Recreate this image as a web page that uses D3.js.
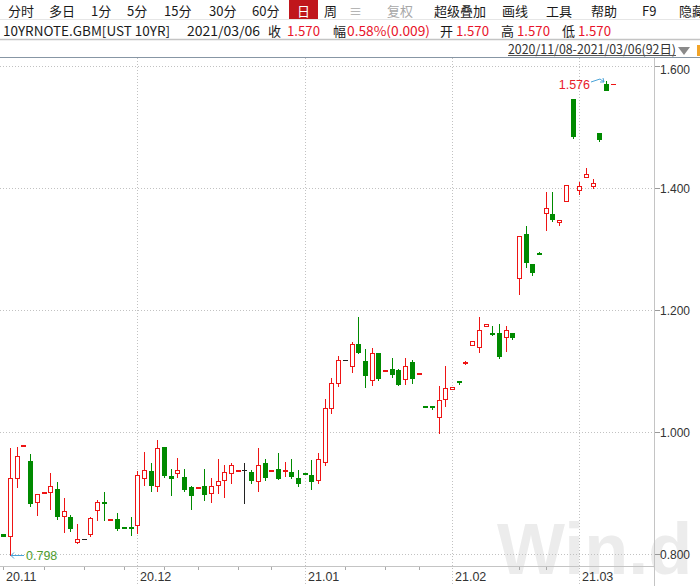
<!DOCTYPE html>
<html><head><meta charset="utf-8">
<script src="https://cdn.jsdelivr.net/npm/d3@7"></script>
<style>
html,body{margin:0;padding:0;background:#fff;overflow:hidden;}
svg{display:block;}
</style></head><body>
<svg id="c" width="700" height="586"></svg>
<script>
// ---------------- data ----------------
const openV  = [0.833,0.829,0.925,0.977,0.952,0.885,0.900,0.902,0.906,0.862,0.860,0.820,0.825,0.833,0.872,0.886,0.857,0.857,0.845,0.844,
                0.848,0.925,0.936,0.911,0.976,0.928,0.933,0.926,0.910,0.909,0.911,0.900,0.913,0.921,0.932,0.937,0.938,0.934,0.920,0.950,
                0.937,0.939,0.937,0.935,0.925,0.933,0.929,0.922,0.951,1.039,1.081,1.118,1.109,1.145,1.117,1.086,1.129,1.100,1.103,1.101,
                1.087,1.114,1.096,1.042,1.042,1.025,1.054,1.070,1.084,1.114,1.143,1.139,1.173,1.163,1.163,1.156,1.163,1.252,1.324,1.275,
                1.294,1.359,1.357,1.344,1.378,1.546,1.396,1.418,1.403,1.490,1.570,1.570];
const highV  = [0.833,0.974,0.976,0.978,0.964,0.899,0.901,0.932,0.918,0.892,0.864,0.849,0.825,0.860,0.888,0.902,0.858,0.867,0.845,0.860,
                0.936,0.967,0.950,0.987,0.976,0.940,0.958,0.940,0.911,0.910,0.939,0.925,0.955,0.946,0.950,0.938,0.949,0.938,0.973,0.956,
                0.938,0.965,0.951,0.955,0.938,0.933,0.954,0.965,1.054,1.088,1.125,1.118,1.148,1.189,1.136,1.137,1.130,1.101,1.122,1.103,
                1.122,1.118,1.097,1.042,1.042,1.075,1.109,1.073,1.084,1.117,1.150,1.188,1.177,1.173,1.177,1.173,1.163,1.322,1.338,1.275,
                1.295,1.393,1.393,1.348,1.405,1.546,1.410,1.432,1.414,1.490,1.576,1.570];
const lowV   = [0.830,0.798,0.910,0.977,0.878,0.864,0.900,0.873,0.858,0.836,0.838,0.818,0.825,0.830,0.855,0.855,0.857,0.839,0.844,0.831,
                0.835,0.913,0.903,0.903,0.926,0.896,0.926,0.904,0.874,0.909,0.888,0.885,0.900,0.893,0.916,0.937,0.883,0.916,0.904,0.921,
                0.937,0.923,0.928,0.925,0.912,0.932,0.906,0.916,0.946,1.031,1.076,1.118,1.099,1.130,1.073,1.077,1.085,1.100,1.090,1.077,
                1.078,1.081,1.096,1.041,1.038,0.999,1.043,1.070,1.078,1.111,1.142,1.131,1.173,1.159,1.122,1.132,1.152,1.226,1.271,1.258,
                1.293,1.331,1.346,1.340,1.378,1.482,1.390,1.418,1.400,1.477,1.561,1.570];
const closeV = [0.830,0.925,0.960,0.978,0.884,0.898,0.901,0.912,0.862,0.870,0.843,0.825,0.825,0.859,0.885,0.883,0.858,0.843,0.844,0.843,
                0.929,0.938,0.913,0.973,0.929,0.924,0.937,0.906,0.896,0.910,0.898,0.911,0.920,0.935,0.946,0.938,0.938,0.921,0.946,0.926,
                0.938,0.925,0.938,0.928,0.916,0.932,0.919,0.955,1.039,1.081,1.118,1.118,1.144,1.131,1.093,1.130,1.088,1.101,1.095,1.078,
                1.109,1.088,1.097,1.041,1.041,1.052,1.072,1.073,1.083,1.115,1.149,1.168,1.177,1.162,1.125,1.168,1.156,1.322,1.278,1.263,
                1.293,1.368,1.349,1.348,1.405,1.486,1.403,1.423,1.409,1.480,1.561,1.570];
const monthLabels = ["20.11","20.12","21.01","21.02","21.03"];
const monthStart  = [0,20,45,67,86];
const weekTicks   = [0,6,12,18,24,29,35,40,51,57,62,77,81];
const yTicks      = [0.8,1.0,1.2,1.4,1.6];
const highNote = {idx:90, value:1.576};
const lowNote  = {idx:1,  value:0.798};
const toolbarItems = ["分时","多日","1分","5分","15分","30分","60分","日","周","≡","复权","超级叠加","画线","工具","帮助","F9","隐藏"];
const securityName = "10YRNOTE.GBM[UST 10YR]";
const quoteDate = "2021/03/06";
const quoteLabels = ["收","幅","开","高","低"];
const quoteValues = ["1.570","0.58%(0.009)","1.570","1.570","1.570"];
const rangeText = "2020/11/08-2021/03/06(92日)";

// ---------------- drawing ----------------
const RED = "#ee1414", GREEN = "#008a00", FLAT = "#222";
const svg = d3.select("#c");
const CJK = "'Noto Sans CJK SC','Noto Sans',sans-serif";
const NUM = "'Liberation Sans',Arial,sans-serif";

// watermark
svg.append("text").attr("x",497).attr("y",574).attr("font-family",NUM).attr("font-weight","bold")
  .attr("font-size",72).attr("fill","#ececec").text("Win.d");

// header row 1
const tbX = [8,49,91,127,164,209,252,297,324,349,387,434,502,546,591,642,679];
svg.append("rect").attr("x",289).attr("y",0).attr("width",29).attr("height",19).attr("fill","#c0161c");
toolbarItems.forEach((t,i)=>{
  let fill = "#1a1a1a";
  if (t==="日") fill="#fff";
  if (t==="复权"||t==="≡") fill="#a8a8a8";
  svg.append("text").attr("x",tbX[i]).attr("y",15.5).attr("font-family",CJK).attr("font-size",13)
    .attr("fill",fill).text(t);
});
svg.append("line").attr("x1",0).attr("x2",700).attr("y1",19.5).attr("y2",19.5).attr("stroke","#e6e6e6");

// header row 2
const row2y = 36;
svg.append("text").attr("x",3).attr("y",row2y).attr("font-family",CJK).attr("font-size",13).attr("fill","#1a1a1a")
  .attr("textLength",167).attr("lengthAdjust","spacingAndGlyphs").text(securityName);
svg.append("text").attr("x",187).attr("y",row2y).attr("font-family",CJK).attr("font-size",13).attr("fill","#1a1a1a")
  .attr("textLength",73).attr("lengthAdjust","spacingAndGlyphs").text(quoteDate);
const qlX = [268,333,440,501,562], qvX=[287,347,456,517,578], qvW=[33,83,33,33,33];
quoteLabels.forEach((l,i)=>{
  svg.append("text").attr("x",qlX[i]).attr("y",row2y).attr("font-family",CJK).attr("font-size",13).attr("fill","#1a1a1a").text(l);
  svg.append("text").attr("x",qvX[i]).attr("y",row2y).attr("font-family",CJK).attr("font-size",13).attr("fill","#e8142a")
    .attr("textLength",qvW[i]).attr("lengthAdjust","spacingAndGlyphs").text(quoteValues[i]);
});
svg.append("line").attr("x1",0).attr("x2",700).attr("y1",39.5).attr("y2",39.5).attr("stroke","#c4c4c4").attr("stroke-width",1.5);

// header row 3
svg.append("text").attr("x",508).attr("y",54).attr("font-family",CJK).attr("font-size",12.5).attr("fill","#333")
  .attr("textLength",168).attr("lengthAdjust","spacingAndGlyphs").text(rangeText);
svg.append("line").attr("x1",508).attr("x2",676).attr("y1",55.5).attr("y2",55.5).attr("stroke","#555");
svg.append("path").attr("d","M678,47 L690,47 L684,55 Z").attr("fill","#8a8a8a");
svg.append("rect").attr("x",697).attr("y",45).attr("width",3).attr("height",11).attr("fill","#f2a428");
svg.append("line").attr("x1",0).attr("x2",700).attr("y1",57.5).attr("y2",57.5).attr("stroke","#8796a4").attr("stroke-width",1.2);

// scales
const n = openV.length;
const x = d3.scaleBand().domain(d3.range(n)).range([0,616.1]);
const cx = i => Math.round(x(i) + x.bandwidth()/2);
const y = d3.scaleLinear().domain([0.8,1.6]).range([554,66]);
const PLOT_R = 655;

// grid
yTicks.forEach(v=>{
  const yy = Math.round(y(v))+0.5;
  svg.append("line").attr("x1",0).attr("x2",PLOT_R).attr("y1",yy).attr("y2",yy)
    .attr("stroke","#c2c2c2").attr("stroke-dasharray","1,2");
  svg.append("line").attr("x1",PLOT_R).attr("x2",PLOT_R+5).attr("y1",yy).attr("y2",yy).attr("stroke","#999");
  const ly = v===1.6 ? yy+3.5 : yy;
  svg.append("text").attr("x",660).attr("y",ly).attr("dy","0.35em").attr("font-family",NUM).attr("font-size",12)
    .attr("fill","#333").text(d3.format(".3f")(v));
});
monthStart.forEach((idx,k)=>{
  const xx = cx(idx)+0.5;
  if (k>0) svg.append("line").attr("x1",xx).attr("x2",xx).attr("y1",58).attr("y2",586)
    .attr("stroke","#c2c2c2").attr("stroke-dasharray","1,2");
  svg.append("text").attr("x",cx(idx)+3).attr("y",581).attr("font-family",NUM).attr("font-size",12.5)
    .attr("fill","#333").text(monthLabels[k]);
});
// axes lines
svg.append("line").attr("x1",PLOT_R-0.5).attr("x2",PLOT_R-0.5).attr("y1",58).attr("y2",586).attr("stroke","#c4c4c4");
svg.append("line").attr("x1",0).attr("x2",PLOT_R).attr("y1",566.5).attr("y2",566.5).attr("stroke","#c4c4c4");
weekTicks.forEach(idx=>{
  const xx = cx(idx)+0.5;
  svg.append("line").attr("x1",xx).attr("x2",xx).attr("y1",567).attr("y2",570).attr("stroke","#aaa");
});

// candles
const g = svg.append("g");
for (let i=0;i<n;i++){
  const o=openV[i], h=highV[i], l=lowV[i], c=closeV[i];
  const px = cx(i);
  let col;
  if (c>o) col=RED; else if (c<o) col=GREEN;
  else { const pc = i>0 ? closeV[i-1] : c; col = c>pc ? RED : (c<pc ? GREEN : FLAT); }
  const yH=Math.round(y(h)), yL=Math.round(y(l)), yO=Math.round(y(o)), yC=Math.round(y(c));
  if (yL>yH) g.append("line").attr("x1",px+0.5).attr("x2",px+0.5).attr("y1",yH).attr("y2",yL+1).attr("stroke",col);
  if (c>o){
    g.append("rect").attr("x",px-1.5).attr("y",yC+0.5).attr("width",4).attr("height",Math.max(1,yO-yC))
      .attr("fill","#fff").attr("stroke",col);
  } else if (c<o){
    g.append("rect").attr("x",px-2).attr("y",yO).attr("width",5).attr("height",Math.max(2,yC-yO+1)).attr("fill",col);
  } else {
    g.append("line").attr("x1",px-2).attr("x2",px+3).attr("y1",yC+0.5).attr("y2",yC+0.5).attr("stroke",col);
  }
}

// annotations
const ARROW = "#4aa3d8";
const lx = cx(lowNote.idx)+1, ly = Math.round(y(lowNote.value))+0.5;
svg.append("path").attr("d",`M${lx},${ly} L${lx+13},${ly} M${lx},${ly} L${lx+3},${ly-3} M${lx},${ly} L${lx+3},${ly+3}`)
  .attr("stroke",ARROW).attr("fill","none");
svg.append("text").attr("x",lx+15).attr("y",ly).attr("dy","0.35em").attr("font-family",NUM).attr("font-size",12.5)
  .attr("fill","#4f9d2f").text(d3.format(".3f")(lowNote.value));
const hx = cx(highNote.idx)-2, hy = Math.round(y(highNote.value));
svg.append("path").attr("d",`M${hx-13},${hy+1} L${hx-4},${hy-2} L${hx},${hy+1} M${hx},${hy+1} L${hx-1},${hy-3} M${hx},${hy+1} L${hx-4},${hy+1}`)
  .attr("stroke",ARROW).attr("fill","none");
svg.append("text").attr("x",hx-14).attr("y",hy+4).attr("dy","0.35em").attr("text-anchor","end").attr("font-family",NUM)
  .attr("font-size",12.5).attr("fill","#e8202a").text(d3.format(".3f")(highNote.value));
</script>
</body></html>
